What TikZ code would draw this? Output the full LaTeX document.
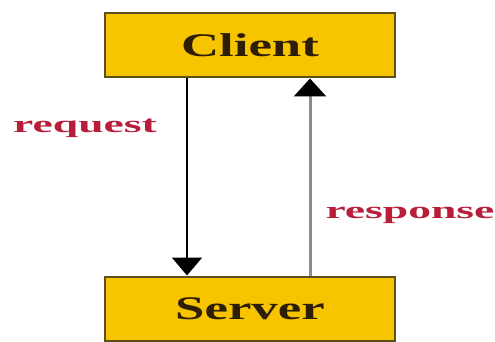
\documentclass[tikz,border=0pt]{standalone}
\usepackage{fontspec}
\usepackage{graphicx}
\setmainfont{Liberation Serif}
\usetikzlibrary{arrows.meta}
\definecolor{boxfill}{HTML}{F6C500}
\definecolor{boxline}{HTML}{5E4E1A}
\definecolor{boxtext}{HTML}{2E1E05}
\definecolor{lbl}{HTML}{B81E3A}
\definecolor{upline}{HTML}{8C8C8C}
\tikzset{
  box/.style={draw=boxline, line width=2pt, fill=boxfill, minimum width=290pt, minimum height=64pt, inner sep=0pt, text=boxtext},
  lbltext/.style={text=lbl, inner sep=0pt},
  tip/.style={-{Triangle[width=30pt,length=18pt]}}
}
\newcommand{\boxlabel}[1]{\scalebox{1.6}[1]{\fontsize{33}{33}\selectfont\bfseries #1}}
\newcommand{\arrlabel}[1]{\scalebox{1.9}[1]{\fontsize{24}{24}\selectfont\bfseries #1}}
\begin{document}
\begin{tikzpicture}[x=1pt,y=-1pt]
\useasboundingbox[fill=white] (0,0) rectangle (495,342);
\node[box] (client) at (250,45.5) {\boxlabel{Client}};
\node[box] (server) at (250,308.5) {\boxlabel{Server}};
\draw[tip, line width=2pt, black] ([xshift=-63pt]client.south) -- ([xshift=-63pt]server.north);
\draw[line width=3pt, upline, -{Triangle[width=32pt,length=18pt,color=black,fill=black]}] ([xshift=60pt]server.north) -- ([xshift=60pt]client.south);
\node[lbltext] (req) at (85,128) {\arrlabel{request}};
\node[lbltext] (resp) at (410,215) {\arrlabel{response}};
\end{tikzpicture}
\end{document}
